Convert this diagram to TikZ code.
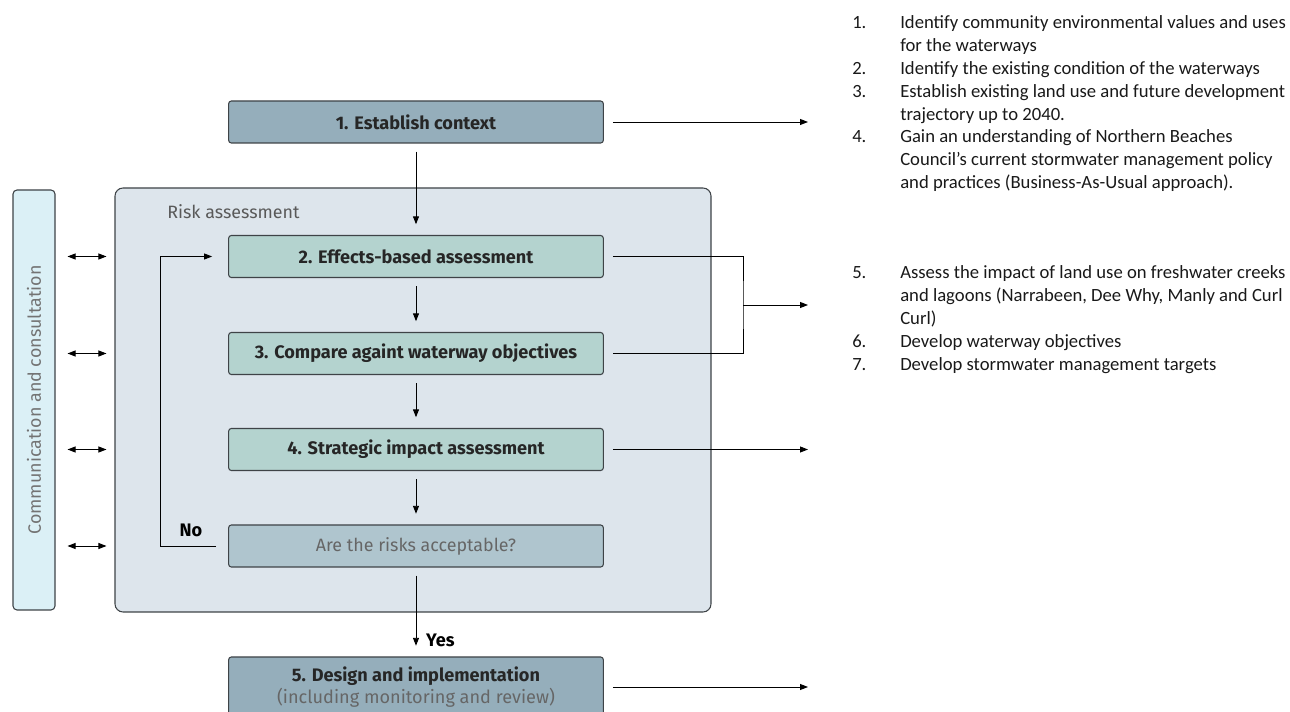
\documentclass[tikz,border=0pt]{standalone}
\usepackage{fontspec}
\setmainfont{Fira Sans}
\newfontfamily\notefont{Carlito}
\usetikzlibrary{arrows.meta}
\definecolor{linegray}{HTML}{3E4347}
\definecolor{stageblue}{HTML}{95AEBB}
\definecolor{stagegreen}{HTML}{B4D3CF}
\definecolor{askblue}{HTML}{AFC5CE}
\definecolor{riskgray}{HTML}{DDE5EC}
\definecolor{commcyan}{HTML}{DBF0F6}

\begin{document}
\begin{tikzpicture}[x=0.75pt,y=-0.75pt,>={Triangle[length=6pt,width=4.5pt]}]
    \tikzstyle{stage}=[draw=linegray,line width=0.8pt,rounded corners=2pt,minimum width=281pt,minimum height=31.5pt,inner sep=0pt,font=\bfseries\fontsize{13.6}{16}\selectfont,text=black!85]
    \tikzstyle{flow}=[->,line width=0.7pt,shorten <=6pt,shorten >=8pt]
    \tikzstyle{note}=[anchor=base west,inner sep=0pt,font=\notefont\fontsize{14}{17.1}\selectfont,text=black!90]
    \useasboundingbox (0,0) rectangle (1290,712);

    \node (risk)[draw=linegray,line width=0.8pt,fill=riskgray,rounded corners=6pt,minimum width=447pt,minimum height=318pt] at (413,400) {};
    \node (risklabel)[anchor=base west,inner sep=0pt,font=\fontsize{13.4}{16}\selectfont,text=black!65] at (167,219) {Risk assessment};
    \node (comm)[draw=linegray,line width=0.8pt,fill=commcyan,rounded corners=3pt,minimum width=31.5pt,minimum height=315pt] at (34,400) {};
    \node (commlabel)[rotate=90,font=\fontsize{13.4}{16}\selectfont,text=black!55] at (34,400) {Communication and consultation};

    \node (ctx)[stage,fill=stageblue] at (416,122) {1. Establish context};
    \node (eff)[stage,fill=stagegreen] at (416,256.5) {2. Effects-based assessment};
    \node (cmp)[stage,fill=stagegreen] at (416,353.5) {3. Compare againt waterway objectives};
    \node (imp)[stage,fill=stagegreen] at (416,449.5) {4. Strategic impact assessment};
    \node (acc)[stage,fill=askblue,font=\fontsize{13.4}{16}\selectfont,text=black!60] at (416,546) {Are the risks acceptable?};
    \node (des)[stage,fill=stageblue,minimum height=45pt,align=center] at (416,687) {5. Design and implementation\\{\mdseries\color{black!60}(including monitoring and review)}};

    % flow down the steps
    \draw[flow] (ctx) -- (eff);
    \draw[flow] (eff) -- (cmp);
    \draw[flow] (cmp) -- (imp);
    \draw[flow] (imp) -- (acc);
    \draw[flow] (acc) -- node (yes)[pos=0.82,right=4pt,font=\bfseries\fontsize{13.6}{16}\selectfont] {Yes} (des);
    \draw[->,line width=0.7pt,shorten <=9pt,shorten >=12pt] (acc.west) -- ++(-68,0) coordinate (back) |- (eff.west);
    \node (no)[font=\bfseries\fontsize{13.6}{16}\selectfont] at (191,530) {No};

    % consultation links
    \foreach \s in {eff,cmp,imp,acc}
        \draw[<->,line width=0.7pt,shorten <=9pt,shorten >=6pt] (comm.east |- \s) -- (risk.west |- \s);

    % outputs to the notes
    \coordinate (outa) at (808,122);
    \coordinate (join) at (743,305);
    \coordinate (outb) at (808,305);
    \coordinate (outc) at (808,449.5);
    \coordinate (outd) at (808,687);
    \draw[->,line width=0.7pt,shorten <=6.75pt] (ctx.east) -- (outa);
    \draw[line width=0.7pt,shorten <=6.75pt,shorten >=6.75pt] (eff.east) -| (join) |- (cmp.east);
    \draw[->,line width=0.7pt] (join) -- (outb);
    \draw[->,line width=0.7pt,shorten <=6.75pt] (imp.east) -- (outc);
    \draw[->,line width=0.7pt,shorten <=6.75pt] (des.east) -- (outd);

    \node (notesa)[note] at (852,29) {\begin{tabular}[t]{@{}p{36pt}@{}l@{}}
        1. & Identify community environmental values and uses\\
           & for the waterways\\
        2. & Identify the existing condition of the waterways\\
        3. & Establish existing land use and future development\\
           & trajectory up to 2040.\\
        4. & Gain an understanding of Northern Beaches\\
           & Council’s current stormwater management policy\\
           & and practices (Business-As-Usual approach).
    \end{tabular}};
    \node (notesb)[note] at (852,279) {\begin{tabular}[t]{@{}p{36pt}@{}l@{}}
        5. & Assess the impact of land use on freshwater creeks\\
           & and lagoons (Narrabeen, Dee Why, Manly and Curl\\
           & Curl)\\
        6. & Develop waterway objectives\\
        7. & Develop stormwater management targets
    \end{tabular}};
\end{tikzpicture}
\end{document}
